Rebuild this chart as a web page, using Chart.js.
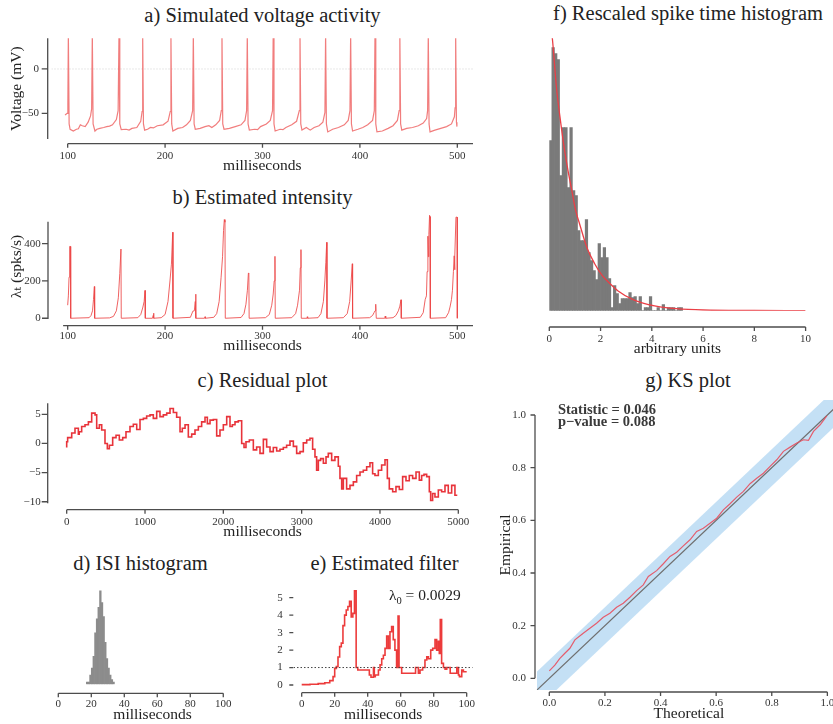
<!DOCTYPE html>
<html>
<head>
<meta charset="utf-8">
<title>Point process model diagnostics</title>
<script src="https://cdn.jsdelivr.net/npm/chart.js@4.4.1/dist/chart.umd.min.js"></script>
<style>
  html, body { margin: 0; padding: 0; background: #fff; }
  #figure { position: relative; width: 833px; height: 724px; overflow: hidden; background: #fff;
            font-family: "Liberation Serif", "Times New Roman", "DejaVu Serif", serif; color: #222; }
  #figure canvas { position: absolute; left: 0; top: 0; }
  .panel-title { position: absolute; font-size: 20.5px; line-height: 24px; text-align: center; white-space: nowrap; }
</style>
</head>
<body>
<div id="figure">
  <div class="panel-title" style="left:0;top:3px;width:525px">a) Simulated voltage activity</div>
  <div class="panel-title" style="left:0;top:185px;width:525px">b) Estimated intensity</div>
  <div class="panel-title" style="left:0;top:368px;width:525px">c) Residual plot</div>
  <div class="panel-title" style="left:0;top:551px;width:281px">d) ISI histogram</div>
  <div class="panel-title" style="left:261px;top:551px;width:247px">e) Estimated filter</div>
  <div class="panel-title" style="left:543px;top:1px;width:290px">f) Rescaled spike time histogram</div>
  <div class="panel-title" style="left:543px;top:368px;width:290px">g) KS plot</div>

  <canvas id="voltage" width="833" height="724"></canvas>
  <canvas id="intensity" width="833" height="724"></canvas>
  <canvas id="residual" width="833" height="724"></canvas>
  <canvas id="isi" width="833" height="724"></canvas>
  <canvas id="filter" width="833" height="724"></canvas>
  <canvas id="rescaled" width="833" height="724"></canvas>
  <canvas id="ks" width="850" height="724"></canvas>
</div>

<script>
// ---- data -------------------------------------------------------------

// a) membrane voltage, [ms, mV]
const voltageTrace = [
  [97.3,-52],[99.5,-50],[100.2,-40],[100.7,40],[101.5,-62],[102.5,-68],[105.8,-70],[109,-68],[111,-67.5],[113,-63],[115,-64],[118,-65],[121,-60],[123.5,-53],[124.6,-45],
  [125.3,40],[126.1,-62],[128,-70],[130,-68],[133,-67],[137,-66],[140,-65],[143,-64.5],[146,-63],[150,-57],[151.8,-47],
  [152.7,40],[153.5,-62],[155,-68.5],[160,-68],[163,-69],[166,-67],[171,-66],[175,-59],[176.4,-48],
  [177,40],[177.8,-62],[179,-69],[182,-68],[185,-66],[188,-66.5],[192,-64],[198,-63],[203,-59],[205.3,-48],
  [206,40],[206.8,-62],[208,-70],[213,-67],[218,-66],[222,-63],[226,-58],[228.3,-47],
  [229,40],[229.8,-62],[231,-68],[236,-67],[241,-65],[245,-64],[248,-66],[252,-63],[256,-58],[257.7,-47],
  [258.4,40],[259.2,-62],[260.5,-68],[263,-67.5],[266,-67],[272,-65],[278,-63],[282,-58],[283.7,-47],
  [284.4,40],[285.2,-62],[286.5,-69],[292,-68],[295,-68.5],[298,-65],[304,-62],[308,-58],[310.3,-47],
  [311,40],[311.8,-62],[313,-70],[318,-68],[321,-68.5],[324,-66],[330,-63],[335,-59],[337.8,-47],
  [338.5,40],[339.3,-62],[340.5,-69],[345,-66],[349,-69],[353,-66],[358,-64],[362,-60],[364.1,-49],
  [364.8,40],[365.6,-62],[367,-71],[372,-68],[378,-66],[384,-63],[388,-58],[389.8,-47],
  [390.5,40],[391.3,-62],[392.5,-70],[398,-68],[403,-66],[408,-63],[413,-58],[414.8,-47],
  [415.5,40],[416.3,-62],[417.5,-71],[423,-70],[429,-67],[434,-64],[438.5,-58],[440.3,-47],
  [441,40],[441.8,-62],[443,-69],[448,-67],[454,-66],[460,-64],[465,-61],[468.5,-56],[469.5,-47],
  [470.2,40],[471,-62],[472,-71],[477,-69],[483,-67],[489,-65],[494,-62],[497,-54],[497.7,-44],
  [498.3,40],[499.1,-60],[499.6,-65]
];
const voltageRest = 0;

// b) conditional intensity, [ms, spikes/s]
const intensityTrace = [
  [100,70],[100.7,120],[101.4,220],[102,385],[102.9,385],[103.1,0],
  [122,3],[124,15],[125.5,40],[126.5,100],[127.4,170],[127.7,0],
  [143,2],[147,10],[150,40],[152,110],[153.5,240],[154.7,371],[155,0],
  [172,3],[175,20],[177,55],[178.5,90],[179.4,149],[179.7,0],[187,0],[187.8,15],[188.2,27],[188.5,0],
  [196,3],[200,20],[203,90],[205,200],[206.5,290],[207.8,461],[208.1,0],
  [226,5],[228.5,38],[230,40],[231,90],[231.4,129],[231.7,0],[240.5,0],[241,8],[241.4,0],
  [250,5],[253,25],[255.5,90],[257.5,220],[259,330],[260,470],[260.8,529],[261.5,515],[261.8,0],
  [278,4],[281,25],[283,75],[284.5,150],[285.5,242],[286,240],[286.3,0],
  [303,3],[307,20],[309.5,70],[311,130],[312,200],[312.8,332],[313.1,0],
  [330,3],[334,25],[336,70],[338,150],[338.8,270],[339.5,368],[339.8,0],[345.6,0],[346,8],[346.4,0],
  [357,3],[360,25],[362.5,90],[364,200],[365,300],[365.9,407],[366.2,0],
  [383,3],[387,25],[389.5,90],[391,200],[392.2,292],[392.5,0],
  [410,3],[413,15],[414.5,30],[415.5,40],[416,75],[416.5,70],[416.8,0],[425.5,0],[426,12],[426.5,0],
  [434,3],[437,15],[439.5,40],[441,65],[442.2,99],[442.5,0],
  [462,5],[465,30],[467,100],[468.3,120],[469,250],[469.8,440],[470.3,330],[470.8,450],[471.5,552],[472,545],[472.3,0],
  [488,3],[491,30],[492.5,60],[494,100],[495,150],[496,250],[496.8,335],[497.2,260],[497.6,335],[498.6,542],[499.8,542],[500,0]
];

// c) time-rescaling residual, [ms, value]
const residualTrace = [
  [0,-0.7],[12,0.3],[64,1.0],[106,1.8],[149,2.6],[160,1.6],[191,2.0],[234,2.9],[277,3.2],[319,3.7],[362,5.2],[383,4.9],
  [417,2.6],[447,3.2],[489,2.3],[519,0.0],[545,-0.9],[587,-0.3],[630,1.0],[672,1.4],[715,0.6],[757,1.0],[808,2.0],
  [851,2.9],[894,3.3],[936,2.4],[979,4.1],[1021,4.3],[1064,4.7],[1106,4.9],[1149,4.3],[1191,5.5],[1234,4.6],[1277,4.9],
  [1319,5.2],[1362,6.0],[1404,5.3],[1447,4.5],[1476,2.0],[1511,2.6],[1553,3.2],[1596,1.1],[1638,1.6],[1681,2.3],
  [1723,2.9],[1766,3.7],[1796,4.5],[1830,3.4],[1872,4.0],[1915,4.1],[1957,1.3],[2000,2.3],[2043,3.2],[2085,4.6],
  [2115,2.9],[2149,3.2],[2191,3.7],[2234,3.9],[2264,0.0],[2289,-0.7],[2332,0.3],[2383,0.6],[2425,-1.1],[2468,-0.6],
  [2511,-1.7],[2553,0.7],[2596,-0.6],[2638,-1.4],[2681,-0.7],[2723,-1.3],[2766,-1.0],[2808,-0.7],[2851,-0.3],[2894,0.4],
  [2936,-0.5],[2979,-1.7],[3021,-1.4],[3064,0.1],[3106,0.6],[3140,0.9],[3170,-1.0],[3191,-2.3],[3213,-4.6],[3242,-2.9],
  [3277,-2.6],[3311,-3.4],[3340,-2.3],[3383,-1.7],[3425,-2.9],[3468,-2.3],[3489,-3.9],[3511,-6.0],[3532,-7.8],[3574,-6.0],
  [3617,-7.8],[3660,-7.2],[3702,-6.6],[3745,-5.5],[3787,-4.9],[3830,-4.6],[3872,-4.0],[3906,-3.3],[3936,-5.2],[3979,-5.5],
  [4021,-4.6],[4064,-3.7],[4094,-2.8],[4119,-6.0],[4162,-7.8],[4204,-8.3],[4247,-7.4],[4289,-7.9],[4332,-5.7],[4374,-6.4],
  [4417,-5.5],[4460,-6.0],[4502,-4.9],[4532,-6.3],[4562,-5.5],[4596,-5.3],[4630,-5.7],[4647,-8.3],[4672,-9.8],[4702,-8.6],
  [4745,-9.2],[4787,-8.0],[4830,-8.3],[4872,-7.2],[4915,-8.5],[4957,-7.2],[4987,-8.9]
];

// d) inter-spike intervals, 1 ms bins
const isiBinStart = 17;
const isiBinWidth = 1;
const isiCounts = [1, 1, 4, 7, 12, 22, 28, 33, 40, 35, 29, 18, 11, 7, 4, 2, 1];

// e) history filter, [ms lag, gain]
const filterTrace = [
  [0,0.02],[5,0.02],[10,0.04],[14,0.08],[17,0.13],[19,0.25],[20,0.48],[21,0.95],[22,1.05],[23,1.6],[24,2.2],[25,2.4],
  [26,3.4],[27,4.0],[28,4.3],[29,4.5],[30,4.8],[31,3.9],[32,4.1],[33,5.4],[34,1.0],[41,0.86],[42,0.57],[43.5,0.44],
  [44,1.0],[44.6,0.48],[46.5,0.57],[47.5,0.86],[48.5,1.15],[49.5,1.5],[50.5,1.7],[51.5,2.1],[52.5,2.8],[53.5,2.1],
  [54.5,3.05],[55.5,3.35],[56.5,2.6],[57.5,2.0],[58.4,1.0],[59,3.95],[60.6,1.0],[69,0.67],[70.7,1.0],[71.7,0.67],
  [73.3,0.86],[74.7,1.0],[75.8,1.43],[76.8,1.62],[78.2,1.5],[79.4,2.0],[80.8,2.1],[81.8,2.6],[82.8,2.0],[83.4,2.5],
  [84,1.8],[84.8,3.75],[85.9,1.24],[86.9,1.0],[87.9,0.9],[90,1.0],[94,0.67],[95,1.0],[95.6,0.57],[97,0.48],[98,0.86],
  [99,0.76],[100,0.76]
];
const filterBaseline = 1;
const filterRate = '0.0029';

// f) rescaled inter-spike times, 0.1 unit bins, and the fitted exponential
const rescaledBinStart = 0;
const rescaledBinWidth = 0.1;
const rescaledCounts = [
  17.0, 26.3, 25.7, 25.1, 13.5, 18.3, 18.3, 12.3, 18.3, 12.0,
  11.5, 8.0, 7.0, 7.0, 9.1, 5.8, 5.0, 4.0, 3.1, 6.7,
  5.3, 6.3, 5.3, 3.2, 0.3, 2.5, 1.7, 0.7, 1.2, 1.2,
  1.2, 1.8, 1.3, 1.4, 0.7, 1.4, 0, 0.3, 0.3, 1.4,
  0, 0, 0.3, 0, 0.6, 0, 0.3, 0.3, 0.3, 0,
  0.3, 0.3
];
const rescaledFit = [
  [0,29.5],[0.12,27.2],[0.28,22.3],[0.42,19.3],[0.58,16.3],[0.73,14.0],[0.88,12.0],[1.03,10.0],[1.18,8.7],
  [1.47,6.3],[1.77,4.7],[2.07,3.5],[2.37,2.7],[2.67,2.0],[3.27,1.1],[3.87,0.6],[4.47,0.33],[4.95,0.2],
  [6,0.07],[8,0.02],[10,0]
];

// g) KS plot
const ksEmpirical = [
  [0,0.028],[0.02,0.05],[0.038,0.076],[0.056,0.095],[0.074,0.114],[0.092,0.146],[0.122,0.171],[0.146,0.19],
  [0.17,0.209],[0.194,0.232],[0.218,0.247],[0.242,0.27],[0.266,0.285],[0.29,0.308],[0.314,0.333],[0.338,0.355],
  [0.356,0.387],[0.386,0.409],[0.41,0.435],[0.434,0.463],[0.458,0.479],[0.482,0.503],[0.506,0.526],[0.53,0.558],
  [0.554,0.57],[0.578,0.589],[0.602,0.608],[0.626,0.64],[0.65,0.663],[0.674,0.688],[0.698,0.71],[0.722,0.739],
  [0.746,0.76],[0.77,0.779],[0.794,0.805],[0.818,0.83],[0.842,0.862],[0.866,0.878],[0.89,0.894],[0.914,0.906],
  [0.932,0.904],[0.95,0.938],[0.974,0.963],[0.998,0.997]
];
const ksDiagonal = [-0.045, 1.06];
const ksBandHalfWidth = 0.07;
const ksStatistic = '0.046';
const ksPValue = '0.088';

// tick positions
const msTicks = [100, 200, 300, 400, 500];
const voltTicks = [0, -50];
const intensityTicks = [0, 200, 400];
const residualTicksX = [0, 1000, 2000, 3000, 4000, 5000];
const residualTicksY = [5, 0, -5, -10];
const lagTicks = [0, 20, 40, 60, 80, 100];
const gainTicks = [0, 1, 2, 3, 4, 5];
const unitTicks = [0, 2, 4, 6, 8, 10];
const probTicks = [0, 0.2, 0.4, 0.6, 0.8, 1.0];

// ---- drawing ----------------------------------------------------------

const SERIF = '"Liberation Serif", "Times New Roman", "DejaVu Serif", serif';
const AXIS = '#4d4d4d';

const pts = arr => arr.map(p => ({x: p[0], y: p[1]}));
const minusLabel = v => String(v).replace('-', '\u2212');

function histogram(start, width, counts) {
  return counts.map((c, i) => ({x: start + (i + 0.5) * width, y: c}));
}

// axis spines set off from the plotting area, ticks pointing outward
function spines(o) {
  return {
    id: 'spines',
    afterDraw(chart) {
      const {ctx, chartArea: a, scales: {x, y}} = chart;
      ctx.save();
      ctx.strokeStyle = AXIS;
      ctx.lineWidth = 1.3;
      ctx.beginPath();
      if (o.x) {
        const yy = a.bottom + o.x.gap;
        ctx.moveTo(x.getPixelForValue(o.x.from), yy);
        ctx.lineTo(x.getPixelForValue(o.x.to), yy);
        x.ticks.forEach(t => {
          const px = x.getPixelForValue(t.value);
          ctx.moveTo(px, yy);
          ctx.lineTo(px, yy + o.x.tick);
        });
      }
      if (o.y) {
        const xx = a.left - o.y.gap;
        if (o.y.from !== undefined) {
          ctx.moveTo(xx, y.getPixelForValue(o.y.from));
          ctx.lineTo(xx, y.getPixelForValue(o.y.to));
        }
        y.ticks.forEach(t => {
          const py = y.getPixelForValue(t.value);
          ctx.moveTo(xx, py);
          ctx.lineTo(xx - o.y.tick, py);
        });
      }
      ctx.stroke();
      ctx.restore();
    }
  };
}

// text placed in data coordinates; each line is a list of runs so subscripts work
function annotations(items) {
  return {
    id: 'annotations',
    afterDatasetsDraw(chart) {
      const {ctx, scales: {x, y}} = chart;
      items.forEach(it => {
        let px = x.getPixelForValue(it.x);
        const py = y.getPixelForValue(it.y);
        ctx.save();
        ctx.textBaseline = 'alphabetic';
        it.runs.forEach(r => {
          ctx.font = (it.bold ? 'bold ' : '') + r.size + 'px ' + SERIF;
          if (it.halo) {
            ctx.strokeStyle = 'rgba(255,255,255,0.9)';
            ctx.lineWidth = 3;
            ctx.lineJoin = 'round';
            ctx.strokeText(r.text, px, py + (r.dy || 0));
          }
          ctx.fillStyle = it.color || '#222';
          ctx.fillText(r.text, px, py + (r.dy || 0));
          px += ctx.measureText(r.text).width;
        });
        ctx.restore();
      });
    }
  };
}

function panel(id, type, datasets, p) {
  const canvas = document.getElementById(id);
  const yShown = !!p.y.ticks;
  const tickFont = {family: SERIF, size: 11};
  const titleFont = {family: SERIF, size: 15.5};
  return new Chart(canvas, {
    type: type,
    data: {datasets: datasets},
    options: {
      responsive: false,
      animation: false,
      events: [],
      layout: {
        padding: {
          left: yShown ? p.y.left : p.area.l,
          right: canvas.width - p.area.r,
          top: p.area.t,
          bottom: canvas.height - p.x.bottom
        }
      },
      plugins: {legend: {display: false}, tooltip: {enabled: false}},
      scales: {
        x: {
          type: 'linear', min: p.x.min, max: p.x.max, offset: false,
          grid: {display: false, drawTicks: false}, border: {display: false},
          afterBuildTicks: s => { s.ticks = p.x.ticks.map(v => ({value: v})); },
          afterFit: s => { s.height = p.x.bottom - p.area.b; },
          ticks: {padding: p.x.pad, color: '#333', font: tickFont, maxRotation: 0, autoSkip: false,
                  callback: p.x.fmt || minusLabel},
          title: {display: true, text: p.x.title, color: '#222', font: titleFont, padding: 0}
        },
        y: {
          type: 'linear', display: yShown, min: p.y.min, max: p.y.max,
          grid: {display: false, drawTicks: false}, border: {display: false},
          afterBuildTicks: s => { if (yShown) s.ticks = p.y.ticks.map(v => ({value: v})); },
          afterFit: s => { if (yShown) s.width = p.area.l - p.y.left; },
          ticks: {padding: p.y.pad, color: '#333', font: tickFont, autoSkip: false,
                  callback: p.y.fmt || minusLabel},
          title: {display: !!p.y.title, text: p.y.title, color: '#222', font: titleFont, padding: 0}
        }
      }
    },
    plugins: [spines(p.axes), annotations(p.notes || [])]
  });
}

const lineStyle = (color, width) => ({
  borderColor: color, borderWidth: width, pointRadius: 0, fill: false, tension: 0
});

// a) voltage
const vx = {min: 83.4, max: 516.1};
panel('voltage', 'line', [
  Object.assign({data: pts(voltageTrace), order: 1}, lineStyle('rgba(238, 92, 92, 0.8)', 1.2)),
  Object.assign({data: [{x: vx.min, y: voltageRest}, {x: vx.max, y: voltageRest}], borderDash: [1, 2], order: 2},
                lineStyle('#d0d0d0', 1))
], {
  area: {l: 51.5, r: 473, t: 38.3, b: 139},
  x: {min: vx.min, max: vx.max, ticks: msTicks, pad: 10.4, bottom: 174.8, title: 'milliseconds'},
  y: {min: -79, max: 34.6, ticks: voltTicks, pad: 12.5, left: 7.7, title: 'Voltage (mV)'},
  axes: {x: {gap: 4.7, from: 100, to: 516.1, tick: 4}, y: {gap: 3.8, from: -79, to: 34.6, tick: 6}}
});

// b) intensity
panel('intensity', 'line', [
  Object.assign({data: pts(intensityTrace)}, lineStyle('rgba(236, 70, 70, 0.85)', 1))
], {
  area: {l: 52, r: 473, t: 214, b: 319},
  x: {min: 83.9, max: 516.1, ticks: msTicks, pad: 10.2, bottom: 354.8, title: 'milliseconds'},
  y: {min: -4, max: 559, ticks: intensityTicks, pad: 11.3, left: 7.7, title: '\u03bb\u209c (spks/s)'},
  axes: {x: {gap: 6.7, from: 95.3, to: 516.1, tick: 4}, y: {gap: 4, from: -4, to: 518, tick: 6}}
});

// c) residuals
panel('residual', 'line', [
  Object.assign({data: pts(residualTrace), stepped: 'after'}, lineStyle('#e8333a', 1.6))
], {
  area: {l: 51.5, r: 473.5, t: 403.3, b: 503.3},
  x: {min: -194, max: 5194, ticks: residualTicksX, pad: 12.6, bottom: 540.8, title: 'milliseconds'},
  y: {min: -10.27, max: 6.89, ticks: residualTicksY, pad: 10.8, left: 20},
  axes: {x: {gap: 6.4, from: 0, to: 5000, tick: 4}, y: {gap: 3.8, from: -10.27, to: 6.89, tick: 6}}
});

// d) ISI histogram
panel('isi', 'bar', [
  {data: histogram(isiBinStart, isiBinWidth, isiCounts), backgroundColor: '#8c8c8c', borderWidth: 0,
   barPercentage: 1, categoryPercentage: 1}
], {
  area: {l: 58.3, r: 246.7, t: 585.1, b: 684.3},
  x: {min: 0, max: 114.2, ticks: lagTicks, pad: 13.1, bottom: 724, title: 'milliseconds'},
  y: {min: 0, max: 42.5},
  axes: {x: {gap: 9, from: 0, to: 100, tick: 4}}
});

// e) estimated history filter
const ex = {min: -4.97, max: 103.64};
panel('filter', 'line', [
  Object.assign({data: [{x: ex.min, y: filterBaseline}, {x: ex.max, y: filterBaseline}], borderDash: [1.5, 2], order: 1},
                lineStyle('#444', 1)),
  Object.assign({data: pts(filterTrace), stepped: 'after', order: 2}, lineStyle('#ec3b3b', 1.6))
], {
  area: {l: 293.5, r: 472.7, t: 588, b: 688},
  x: {min: ex.min, max: ex.max, ticks: lagTicks, pad: 9.4, bottom: 724, title: 'milliseconds'},
  y: {min: -0.172, max: 5.556, ticks: gainTicks, pad: 10.8, left: 260},
  axes: {x: {gap: 4.7, from: 0, to: 100, tick: 4}, y: {gap: 0.2, tick: 4}},
  notes: [{x: 52.9, y: 4.87, runs: [
    {text: '\u03bb', size: 15.5}, {text: '0', size: 10.5, dy: 4}, {text: ' = ' + filterRate, size: 15.5}
  ]}]
});

// f) rescaled spike time histogram with exponential fit
panel('rescaled', 'bar', [
  {data: histogram(rescaledBinStart, rescaledBinWidth, rescaledCounts), backgroundColor: '#7a7a7a',
   borderWidth: 0, barPercentage: 1, categoryPercentage: 1, order: 2},
  Object.assign({type: 'line', data: pts(rescaledFit), cubicInterpolationMode: 'monotone', order: 1},
                lineStyle('#ea3f46', 1.3))
], {
  area: {l: 549.3, r: 827.3, t: 38.3, b: 310.7},
  x: {min: 0, max: 10, ticks: unitTicks, pad: 21.9, bottom: 357.8, title: 'arbitrary units'},
  y: {min: 0, max: 27.24},
  axes: {x: {gap: 16.3, from: 0, to: 10, tick: 4}}
});

// g) KS plot
const bandLower = ksDiagonal.map(v => ({x: v, y: v - ksBandHalfWidth}));
const bandUpper = ksDiagonal.map(v => ({x: v, y: v + ksBandHalfWidth}));
panel('ks', 'line', [
  Object.assign({data: bandLower, order: 10}, lineStyle('rgba(0,0,0,0)', 0)),
  Object.assign({data: bandUpper, order: 10}, lineStyle('rgba(0,0,0,0)', 0),
                {fill: '-1', backgroundColor: 'rgba(165, 207, 240, 0.65)'}),
  Object.assign({data: ksDiagonal.map(v => ({x: v, y: v})), order: 2}, lineStyle('#6f6f6f', 1.2)),
  Object.assign({data: pts(ksEmpirical), order: 1}, lineStyle('rgba(232, 80, 95, 0.9)', 1.2))
], {
  area: {l: 536.8, r: 841, t: 400, b: 690},
  x: {min: -0.045, max: 1.049, ticks: probTicks, pad: 6.7, bottom: 723.3, title: 'Theoretical', fmt: v => v.toFixed(1)},
  y: {min: -0.0444, max: 1.057, ticks: probTicks, pad: 10.8, left: 496.7, title: 'Empirical', fmt: v => v.toFixed(1)},
  axes: {x: {gap: 2, from: 0, to: 1, tick: 4}, y: {gap: 1.8, from: 0, to: 1, tick: 4.5}},
  notes: [
    {x: 0.031, y: 1.004, bold: true, halo: true, color: '#3a3a3a', runs: [{text: 'Statistic = ' + ksStatistic, size: 14.5}]},
    {x: 0.031, y: 0.958, bold: true, halo: true, color: '#3a3a3a', runs: [{text: 'p\u2212value = ' + ksPValue, size: 14.5}]}
  ]
});
</script>
</body>
</html>
